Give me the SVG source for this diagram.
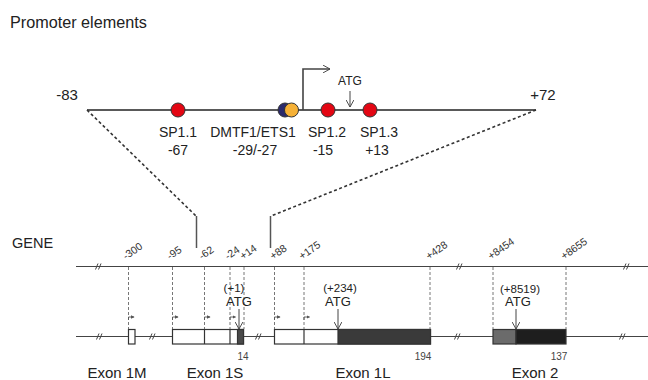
<svg xmlns="http://www.w3.org/2000/svg" width="648" height="380" viewBox="0 0 648 380">
<style>
.t{font-family:"Liberation Sans",Arial,sans-serif;fill:#222}
.lbl{font-size:14px}
.pos{font-size:10.5px;fill:#333}
.small{font-size:11.5px;fill:#222}
.atg{font-size:13px;fill:#222}
.num{font-size:10px;fill:#444}
.exon{font-size:15px;fill:#222}
.line{stroke:#222;stroke-width:1.4;fill:none}
.gl{stroke:#444;stroke-width:1.2;fill:none}
.dash{stroke:#777;stroke-width:1;stroke-dasharray:3 2;fill:none}
.zoom{stroke:#333;stroke-width:1.6;stroke-dasharray:3 2.5;fill:none}
.brk{stroke:#444;stroke-width:1;fill:none}
.box{stroke:#333;stroke-width:1.2}
.sp{fill:#e30613;stroke:#333;stroke-width:1}
.tss{stroke:#555;stroke-width:0.9;fill:none}
.arr{stroke:#444;stroke-width:1;fill:none}
</style>
<defs>
<marker id="tri" viewBox="0 0 6 6" refX="5" refY="3" markerWidth="4" markerHeight="4" orient="auto"><path d="M0,0 L6,3 L0,6 Z" fill="#555"/></marker>
<marker id="vee" viewBox="0 0 10 10" refX="9" refY="5" markerWidth="8" markerHeight="8" markerUnits="userSpaceOnUse" orient="auto"><path d="M0,0 L9,5 L0,10" fill="none" stroke="#444" stroke-width="1.2"/></marker>
<g id="brkmark"><path class="brk" d="M-3.5,3 L-1,-3 M-0.5,3 L2,-3"/></g>
</defs>

<text class="t" x="10" y="28" font-size="16.2">Promoter elements</text>

<g id="promoter">
<line class="line" x1="87" y1="110" x2="536" y2="110"/>
<text class="t" x="67" y="100" font-size="15" text-anchor="middle">-83</text>
<text class="t" x="543" y="100" font-size="15" text-anchor="middle">+72</text>
<path d="M303,110 V69 H330" stroke="#444" stroke-width="1.6" fill="none" marker-end="url(#vee)"/>
<text class="t" x="350" y="85" font-size="12" text-anchor="middle">ATG</text>
<line class="arr" x1="350" y1="91" x2="350" y2="107" marker-end="url(#vee)"/>
</g>

<g id="sp1-1"><circle class="sp" cx="178" cy="110" r="7"/><text class="t lbl" x="178" y="137" text-anchor="middle">SP1.1</text><text class="t lbl" x="178" y="155" text-anchor="middle">-67</text></g>
<g id="dmtf1-ets1"><circle cx="285" cy="110" r="7" fill="#2b2a6b" stroke="#333" stroke-width="1"/><circle cx="291.5" cy="110" r="7" fill="#f6b136" stroke="#333" stroke-width="1"/><text class="t lbl" x="253" y="137" text-anchor="middle">DMTF1/ETS1</text><text class="t lbl" x="255" y="155" text-anchor="middle">-29/-27</text></g>
<g id="sp1-2"><circle class="sp" cx="328" cy="110" r="7"/><text class="t lbl" x="327" y="137" text-anchor="middle">SP1.2</text><text class="t lbl" x="323" y="155" text-anchor="middle">-15</text></g>
<g id="sp1-3"><circle class="sp" cx="370" cy="110" r="7"/><text class="t lbl" x="379" y="137" text-anchor="middle">SP1.3</text><text class="t lbl" x="377" y="155" text-anchor="middle">+13</text></g>

<g id="connectors">
<path class="zoom" d="M87,110 L196,216"/>
<path class="zoom" d="M536,110 L271,216"/>
<line x1="196.5" y1="216" x2="196.5" y2="248" stroke="#555" stroke-width="1.5"/>
<line x1="270.5" y1="216" x2="270.5" y2="248" stroke="#555" stroke-width="1.5"/>
<g id="guides">
<line class="dash" x1="128.5" y1="267" x2="128.5" y2="329"/>
<line class="dash" x1="172.5" y1="267" x2="172.5" y2="329"/>
<line class="dash" x1="204.5" y1="267" x2="204.5" y2="329"/>
<line class="dash" x1="230" y1="267" x2="230" y2="329"/>
<line class="dash" x1="244" y1="267" x2="244" y2="329"/>
<line class="dash" x1="274.5" y1="267" x2="274.5" y2="329"/>
<line class="dash" x1="304" y1="267" x2="304" y2="329"/>
<line class="dash" x1="430" y1="267" x2="430" y2="329"/>
<line class="dash" x1="493" y1="267" x2="493" y2="329"/>
<line class="dash" x1="566" y1="267" x2="566" y2="329"/>
</g>
</g>

<text class="t" x="12" y="248" font-size="14.5">GENE</text>

<g id="gene-line">
<line class="gl" x1="76" y1="266.5" x2="648" y2="266.5"/>
<use href="#brkmark" x="99" y="266.5"/>
<use href="#brkmark" x="460" y="266.5"/>
<use href="#brkmark" x="627" y="266.5"/>
<g class="t pos">
<text transform="translate(126,260) rotate(-35)">-300</text>
<text transform="translate(170,260) rotate(-35)">-95</text>
<text transform="translate(202,260) rotate(-35)">-62</text>
<text transform="translate(228,260) rotate(-35)">-24</text>
<text transform="translate(243,260) rotate(-35)">+14</text>
<text transform="translate(273,260) rotate(-35)">+88</text>
<text transform="translate(302,260) rotate(-35)">+175</text>
<text transform="translate(429,260) rotate(-35)">+428</text>
<text transform="translate(491,260) rotate(-35)">+8454</text>
<text transform="translate(564,260) rotate(-35)">+8655</text>
</g>
</g>

<g id="transcript-line">
<line class="gl" x1="76" y1="336.5" x2="648" y2="336.5"/>
<use href="#brkmark" x="100" y="336.5"/>
<use href="#brkmark" x="153" y="336.5"/>
<use href="#brkmark" x="259" y="336.5"/>
<use href="#brkmark" x="458" y="336.5"/>
<use href="#brkmark" x="623" y="336.5"/>
</g>

<g id="tss-arrows">
<path class="tss" d="M128.5,320 V317 H134" marker-end="url(#tri)"/>
<path class="tss" d="M172.5,320 V317 H178" marker-end="url(#tri)"/>
<path class="tss" d="M204.5,320 V317 H210" marker-end="url(#tri)"/>
<path class="tss" d="M230,320 V317 H235.5" marker-end="url(#tri)"/>
<path class="tss" d="M274.5,320 V317 H280" marker-end="url(#tri)"/>
<path class="tss" d="M304,320 V317 H309.5" marker-end="url(#tri)"/>
</g>

<g id="exon-1M">
<rect class="box" x="128.5" y="329.5" width="6.5" height="14.5" fill="#fff"/>
<text class="t exon" x="117" y="378" text-anchor="middle">Exon 1M</text>
</g>

<g id="exon-1S">
<rect class="box" x="172.5" y="329.5" width="71" height="14.5" fill="#fff"/>
<rect x="237.5" y="329.5" width="6" height="14.5" fill="#4a4a4a" stroke="#333" stroke-width="1.2"/>
<line class="box" x1="204.5" y1="329.5" x2="204.5" y2="344"/>
<line class="box" x1="230" y1="329.5" x2="230" y2="344"/>
<text class="t small" x="234" y="292" text-anchor="middle">(+1)</text>
<text class="t atg" x="239" y="306" text-anchor="middle">ATG</text>
<line class="arr" x1="239" y1="309" x2="239" y2="329" marker-end="url(#vee)"/>
<text class="t num" x="243" y="360" text-anchor="middle">14</text>
<text class="t exon" x="215" y="378" text-anchor="middle">Exon 1S</text>
</g>

<g id="exon-1L">
<rect class="box" x="274.5" y="329.5" width="156" height="14.5" fill="#fff"/>
<rect x="338" y="329.5" width="92.5" height="14.5" fill="#3a3a3a" stroke="#333" stroke-width="1.2"/>
<line class="box" x1="304" y1="329.5" x2="304" y2="344"/>
<text class="t small" x="340" y="292" text-anchor="middle">(+234)</text>
<text class="t atg" x="338" y="306" text-anchor="middle">ATG</text>
<line class="arr" x1="338" y1="309" x2="338" y2="329" marker-end="url(#vee)"/>
<text class="t num" x="423" y="360" text-anchor="middle">194</text>
<text class="t exon" x="363" y="378" text-anchor="middle">Exon 1L</text>
</g>

<g id="exon-2">
<rect x="493" y="329.5" width="23" height="14.5" fill="#6b6b6b" stroke="#333" stroke-width="1.2"/>
<rect x="516" y="329.5" width="50" height="14.5" fill="#1e1e1e" stroke="#333" stroke-width="1.2"/>
<text class="t small" x="520" y="293" text-anchor="middle">(+8519)</text>
<text class="t atg" x="518" y="306" text-anchor="middle">ATG</text>
<line class="arr" x1="516" y1="309" x2="516" y2="329" marker-end="url(#vee)"/>
<text class="t num" x="559" y="360" text-anchor="middle">137</text>
<text class="t exon" x="535" y="378" text-anchor="middle">Exon 2</text>
</g>
</svg>
